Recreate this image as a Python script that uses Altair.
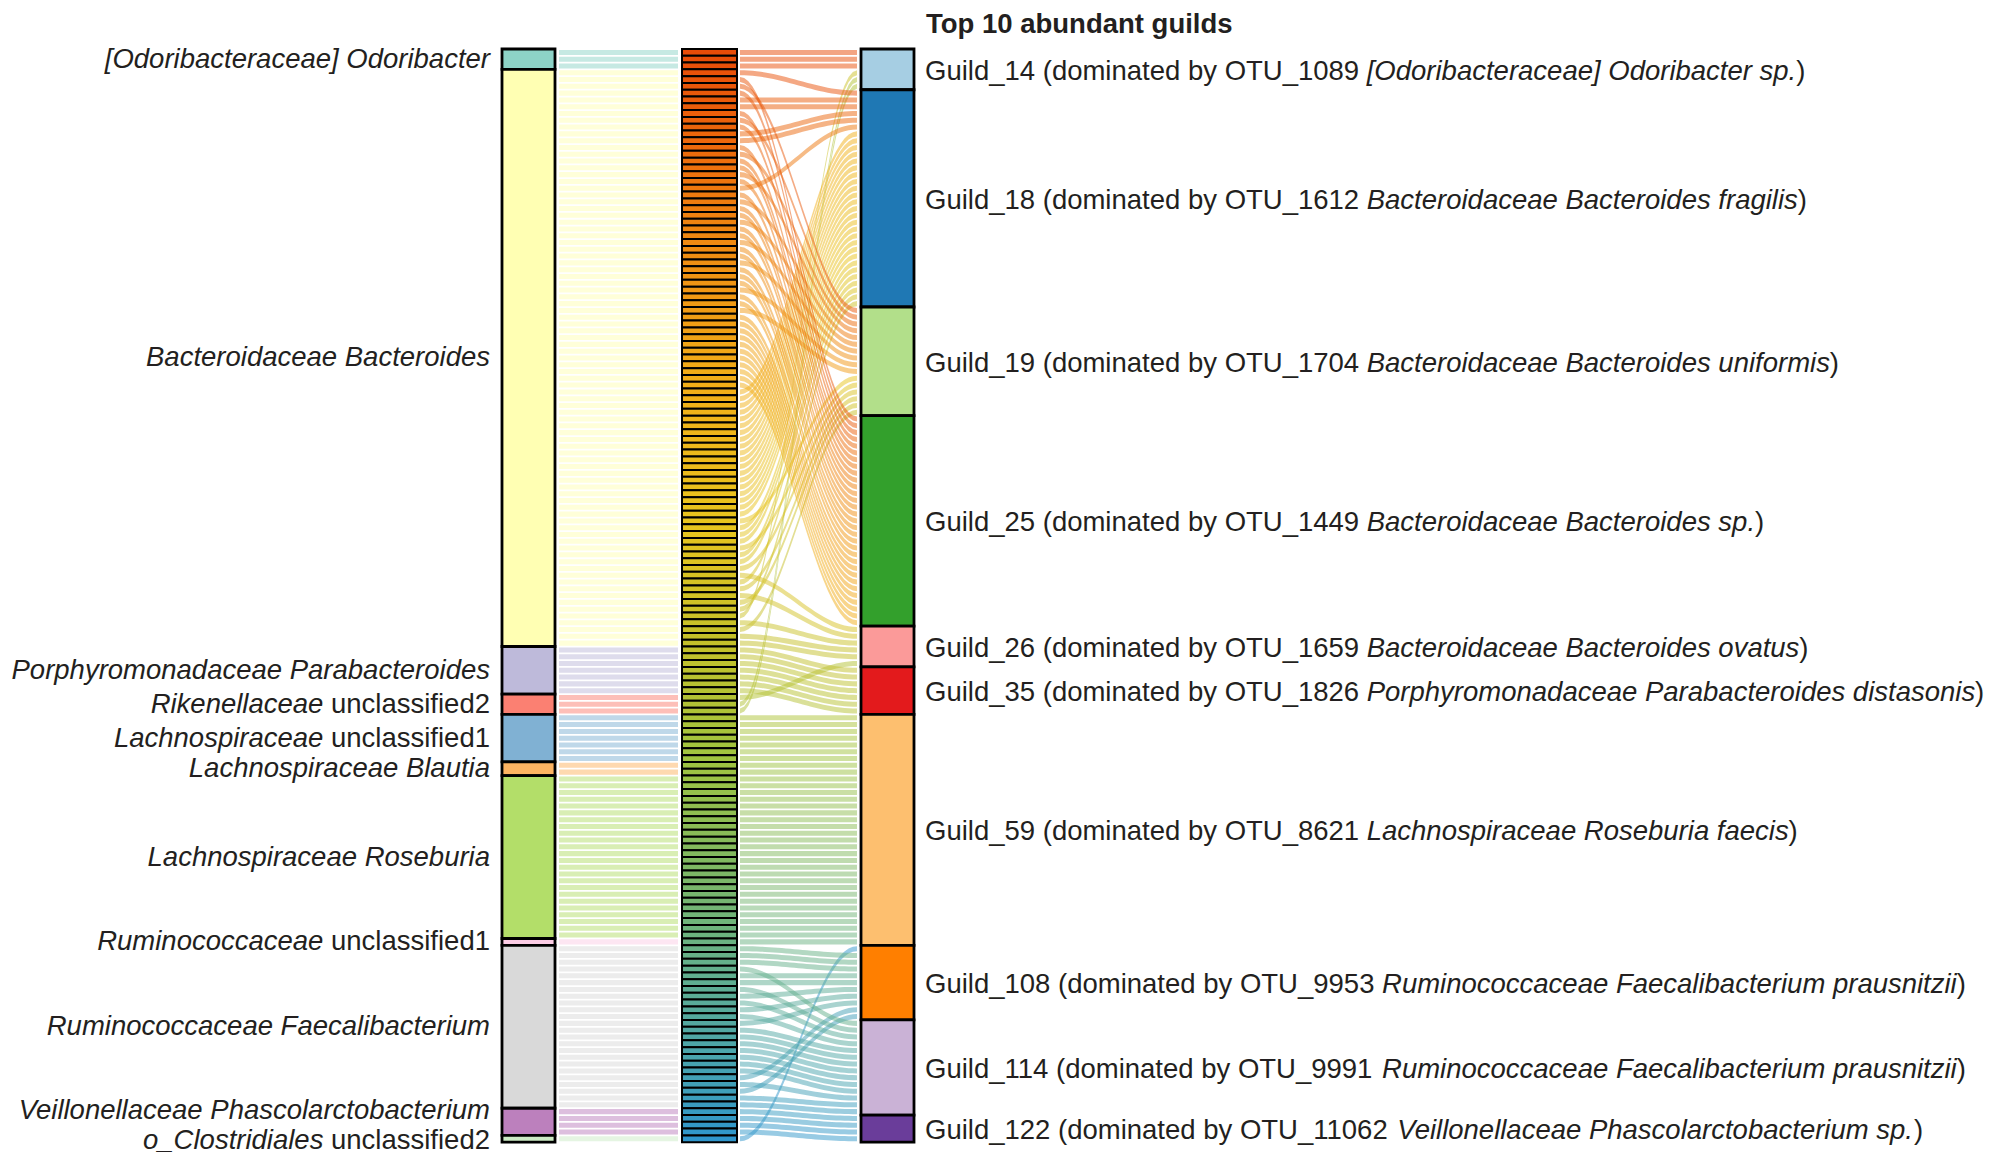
import math
import altair as alt
import pandas as pd

alt.data_transformers.disable_max_rows()

# ------------------------------------------------------------------ data
taxa_italic = ["[Odoribacteraceae] Odoribacter", "Bacteroidaceae Bacteroides",
               "Porphyromonadaceae Parabacteroides", "Rikenellaceae", "Lachnospiraceae",
               "Lachnospiraceae Blautia", "Lachnospiraceae Roseburia", "Ruminococcaceae",
               "Ruminococcaceae Faecalibacterium", "Veillonellaceae Phascolarctobacterium",
               "o_Clostridiales"]
taxa_plain = ["", "", "", " unclassified2", " unclassified1", "", "", " unclassified1", "", "",
              " unclassified2"]
taxa_counts = [3, 85, 7, 3, 7, 2, 24, 1, 24, 4, 1]
taxa_colors = ["#8dd3c7", "#ffffb3", "#bebada", "#fb8072", "#80b1d3", "#fdb462", "#b3de69",
               "#fccde5", "#d9d9d9", "#bc80bd", "#ccebc5"]

guild_names = ["Guild_14", "Guild_18", "Guild_19", "Guild_25", "Guild_26", "Guild_35",
               "Guild_59", "Guild_108", "Guild_114", "Guild_122"]
guild_dominant = ["OTU_1089", "OTU_1612", "OTU_1704", "OTU_1449", "OTU_1659", "OTU_1826",
                  "OTU_8621", "OTU_9953", "OTU_9991", "OTU_11062"]
guild_species = ["[Odoribacteraceae] Odoribacter sp.", "Bacteroidaceae Bacteroides fragilis",
                 "Bacteroidaceae Bacteroides uniformis", "Bacteroidaceae Bacteroides sp.",
                 "Bacteroidaceae Bacteroides ovatus",
                 "Porphyromonadaceae Parabacteroides distasonis",
                 "Lachnospiraceae Roseburia faecis",
                 "Ruminococcaceae Faecalibacterium prausnitzii",
                 "Ruminococcaceae Faecalibacterium prausnitzii",
                 "Veillonellaceae Phascolarctobacterium sp."]
guild_colors = ["#a6cee3", "#1f78b4", "#b2df8a", "#33a02c", "#fb9a99", "#e31a1c", "#fdbf6f",
                "#ff7f00", "#cab2d6", "#6a3d9a"]
# OTUs (numbered 1..161 from top of the OTU column) in each guild, in stacking order
guild_members = [
    [1, 2, 3, 84, 97, 98],
    [4, 8, 9, 13, 14, 21, 51, 52, 53, 54, 55, 56, 57, 58, 59, 60, 61, 62, 63, 64, 65, 66, 67,
     68, 69, 71, 72, 73, 75, 76, 79, 83],
    [6, 11, 16, 19, 23, 26, 29, 32, 36, 39, 70, 74, 77, 80, 82, 86],
    [5, 7, 10, 12, 15, 17, 18, 20, 22, 24, 25, 27, 28, 30, 31, 33, 34, 35, 37, 38, 40, 41, 42,
     43, 44, 45, 46, 47, 48, 49, 50],
    [78, 81, 85, 87, 88, 96],
    [89, 90, 91, 92, 93, 94, 95],
    [99, 100, 101, 102, 103, 104, 105, 106, 107, 108, 109, 110, 111, 112, 113, 114, 115, 116,
     117, 118, 119, 120, 121, 122, 123, 124, 125, 126, 127, 128, 129, 130, 131, 132],
    [161, 133, 134, 135, 137, 138, 140, 142, 144, 152, 154],
    [136, 139, 141, 143, 145, 146, 147, 148, 149, 150, 151, 153, 155, 156],
    [157, 158, 159, 160],
]
# colour ramp of the OTU column (stop OTU position -> colour)
otu_ramp_pos = [1, 15, 30, 50, 70, 88, 105, 120, 132, 147, 161]
otu_ramp_col = ["#e84c08", "#ec6a0c", "#f08c12", "#f2ae18", "#e8c41e", "#c4c02a", "#a0c440",
                "#80b860", "#6ab282", "#4ea6a8", "#2f96cc"]

# ------------------------------------------------------------------ layout
UNIT = 6.79          # px per OTU
TOP = 49.0           # px of top of columns
FS = 27.5            # font size
TXT = "#231f20"
FONT = "Liberation Sans"
TAXA_X = (502, 555)
OTU_X = (682, 737)
GUILD_X = (861, 914)
FLOW1_X = (559, 678)
FLOW2_X = (740, 857)
HALF = 0.37          # half flow thickness (units)
LEFT_DY = 0.5
RIGHT_DY = 2.5
label_nudge = [0, 0, 0, 0, 0, 0, 0, 0, 0, -1.6, 0.3]


def yu(px):
    return (px - TOP) / UNIT


_w = dict(zip("ABCDEFGHIJKLMNOPQRSTUVWXYZ",
              [667, 667, 722, 722, 667, 611, 778, 722, 278, 500, 667, 556, 833, 722, 778, 667,
               778, 722, 667, 611, 722, 667, 944, 667, 667, 611]))
_w.update(dict(zip("abcdefghijklmnopqrstuvwxyz",
                   [556, 556, 500, 556, 556, 278, 556, 556, 222, 222, 500, 222, 833, 556, 556,
                    556, 556, 333, 500, 278, 556, 500, 722, 500, 500, 500])))
_w.update({" ": 278, "_": 556, "(": 333, ")": 333, "[": 278, "]": 278, ".": 278})
for d in "0123456789":
    _w[d] = 556


def tw(s):
    return sum(_w.get(ch, 556) for ch in s) / 1000.0 * FS


# ------------------------------------------------------------------ tables
n_otu = sum(taxa_counts)
otu_taxon = []
taxa_rows = []
start = 0
for i, c in enumerate(taxa_counts):
    taxa_rows.append(dict(y0=start, y1=start + c, color=taxa_colors[i], x0=TAXA_X[0], x1=TAXA_X[1]))
    otu_taxon += [i] * c
    start += c
taxa_df = pd.DataFrame(taxa_rows)

otu_df = pd.DataFrame(dict(otu=list(range(1, n_otu + 1)),
                           y0=[k for k in range(n_otu)], y1=[k + 1 for k in range(n_otu)],
                           x0=OTU_X[0], x1=OTU_X[1]))

f1_df = pd.DataFrame(dict(y0=[k + 0.5 - HALF for k in range(n_otu)],
                          y1=[k + 0.5 + HALF for k in range(n_otu)],
                          color=[taxa_colors[otu_taxon[k]] for k in range(n_otu)],
                          x0=FLOW1_X[0], x1=FLOW1_X[1]))

guild_rows = []
flow_rows = []
start = 0
NP = 28
for g, mem in enumerate(guild_members):
    guild_rows.append(dict(y0=start, y1=start + len(mem), color=guild_colors[g],
                           x0=GUILD_X[0], x1=GUILD_X[1]))
    for s, o in enumerate(mem):
        ys = o - 0.5
        ye = start + s + 0.5
        for j in range(NP + 1):
            t = j / NP
            f = (1 - math.cos(math.pi * t)) / 2
            yc = ys + (ye - ys) * f
            flow_rows.append(dict(otu=o, fid=f"f{o}",
                                  x=round(FLOW2_X[0] + (FLOW2_X[1] - FLOW2_X[0]) * t, 3),
                                  ylo=round(yc - HALF, 4), yhi=round(yc + HALF, 4)))
    start += len(mem)
guild_df = pd.DataFrame(guild_rows)
flow_df = pd.DataFrame(flow_rows)

# text pieces
left_it, left_pl = [], []
right_pre, right_it, right_suf = [], [], []
LX = 490
for i in range(len(taxa_counts)):
    yc = taxa_rows[i]["y0"] + taxa_counts[i] / 2 + label_nudge[i]
    if taxa_plain[i]:
        left_pl.append(dict(x=LX, y=yc, text=taxa_plain[i]))
    left_it.append(dict(x=LX - tw(taxa_plain[i]), y=yc, text=taxa_italic[i]))
RX = 925
for g in range(len(guild_names)):
    yc = (guild_rows[g]["y0"] + guild_rows[g]["y1"]) / 2
    pre = f"{guild_names[g]} (dominated by {guild_dominant[g]} "
    right_pre.append(dict(x=RX, y=yc, text=pre))
    right_it.append(dict(x=RX + tw(pre), y=yc, text=guild_species[g]))
    right_suf.append(dict(x=RX + tw(pre) + tw(guild_species[g]), y=yc, text=")"))
title_df = pd.DataFrame([dict(x=926, y=yu(25), text="Top 10 abundant guilds")])

# ------------------------------------------------------------------ chart
xs = alt.Scale(domain=[8, 1991], nice=False, zero=False)
ys = alt.Scale(domain=[yu(8), yu(1157)], reverse=True, nice=False, zero=False)
otu_scale = alt.Scale(domain=otu_ramp_pos, range=otu_ramp_col, interpolate="rgb")


def rect_layer(df, stroke_w=None, opacity=1.0, color_enc=None):
    kw = dict(opacity=opacity)
    if stroke_w is not None:
        kw.update(stroke="black", strokeWidth=stroke_w)
    return alt.Chart(df).mark_rect(**kw).encode(
        x=alt.X("x0:Q", scale=xs, axis=None), x2="x1:Q",
        y=alt.Y("y0:Q", scale=ys, axis=None), y2="y1:Q",
        color=color_enc if color_enc is not None else alt.Color("color:N", scale=None))


flows1 = rect_layer(f1_df, opacity=0.5)
flows2 = alt.Chart(flow_df).mark_area(opacity=0.5).encode(
    x=alt.X("x:Q", scale=xs, axis=None),
    y=alt.Y("ylo:Q", scale=ys, axis=None), y2="yhi:Q",
    color=alt.Color("otu:Q", scale=otu_scale, legend=None),
    detail="fid:N")
taxa_boxes = rect_layer(taxa_df, stroke_w=2.8)
otu_boxes = rect_layer(otu_df, stroke_w=2.0,
                       color_enc=alt.Color("otu:Q", scale=otu_scale, legend=None))
guild_boxes = rect_layer(guild_df, stroke_w=2.8)


def text_layer(rows, align, dy, style="normal", weight="normal"):
    return alt.Chart(pd.DataFrame(rows)).mark_text(
        align=align, baseline="middle", font=FONT, fontSize=FS, fontStyle=style,
        fontWeight=weight, color=TXT, dy=dy).encode(
        x=alt.X("x:Q", scale=xs, axis=None), y=alt.Y("y:Q", scale=ys, axis=None), text="text:N")


layers = [flows1, flows2, taxa_boxes, otu_boxes, guild_boxes,
          text_layer(left_it, "right", LEFT_DY, "italic"),
          text_layer(left_pl, "right", LEFT_DY),
          text_layer(right_pre, "left", RIGHT_DY),
          text_layer(right_it, "left", RIGHT_DY, "italic"),
          text_layer(right_suf, "left", RIGHT_DY),
          alt.Chart(title_df).mark_text(align="left", baseline="middle", font=FONT, fontSize=FS,
                                        fontWeight="bold", color=TXT).encode(
              x=alt.X("x:Q", scale=xs, axis=None), y=alt.Y("y:Q", scale=ys, axis=None),
              text="text:N")]

chart = alt.layer(*layers).properties(
    width=1983, height=1149, autosize=alt.AutoSizeParams(type="none"), padding=0,
    background="white").configure_view(strokeWidth=0)

chart.save("out.html", embed_options={"renderer": "svg", "actions": False})
